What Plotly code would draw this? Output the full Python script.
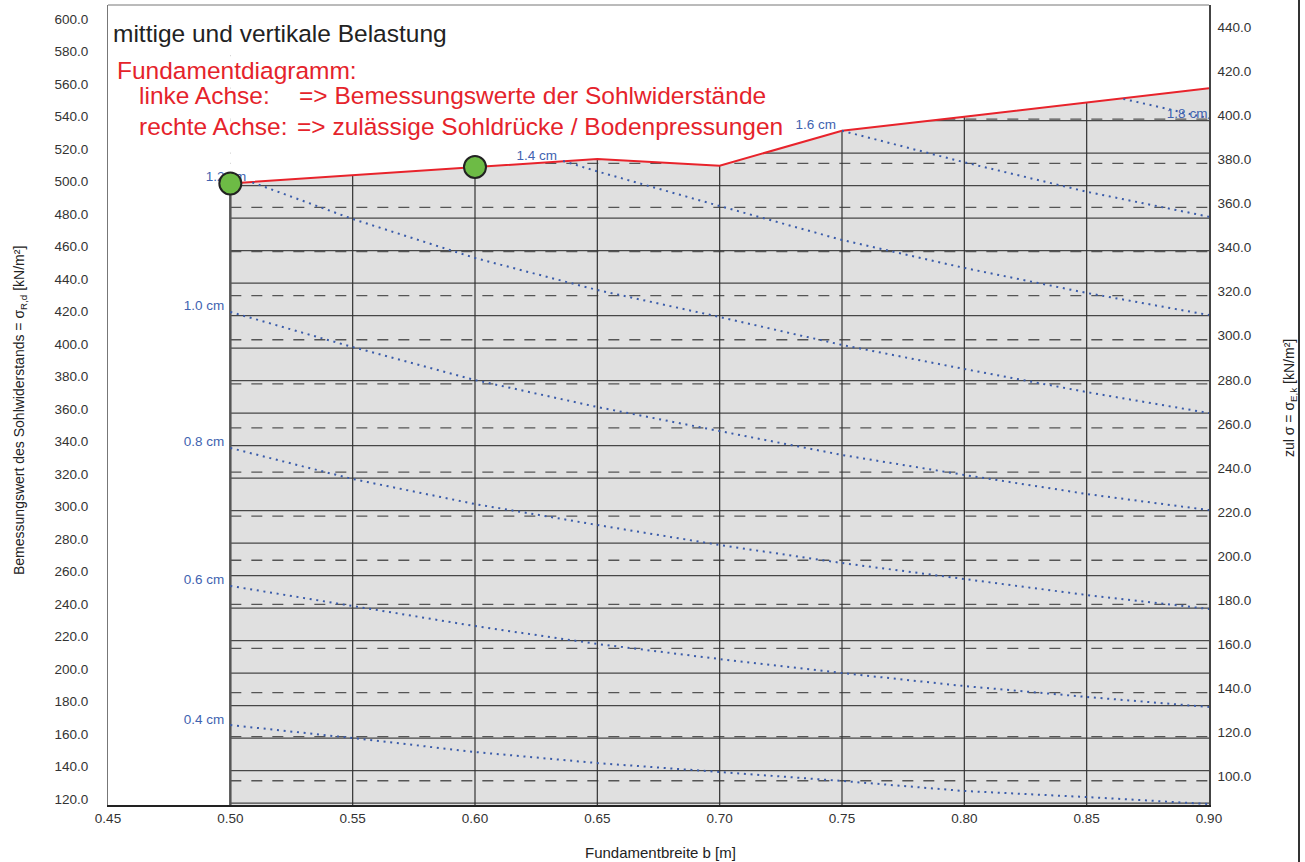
import plotly.graph_objects as go

# Foundation width b [m]
B = [0.50, 0.55, 0.60, 0.65, 0.70, 0.75, 0.80, 0.85, 0.90]

# Upper limit of the design base resistance sigma_R,d [kN/m²]
SIGMA_RD_MAX = [501.4, 506.4, 511.5, 516.4, 512.3, 533.8, 542.5, 551.3, 559.9]

# Highlighted design points
POINT_B = [0.50, 0.60]
POINT_SIGMA = [501.4, 511.5]

# Settlement isolines (values on the left axis, kN/m²)
S04_B = [0.50, 0.55, 0.60, 0.65, 0.70, 0.75, 0.80, 0.85, 0.90]
S04 = [168.1, 160.1, 151.5, 144.7, 139.2, 133.7, 127.5, 123.8, 119.5]
S06_B = [0.50, 0.55, 0.60, 0.65, 0.70, 0.75, 0.80, 0.85, 0.90]
S06 = [253.7, 241.4, 229.0, 218.0, 208.7, 200.1, 192.1, 185.4, 179.2]
S08_B = [0.50, 0.55, 0.60, 0.65, 0.70, 0.75, 0.80, 0.85, 0.90]
S08 = [338.6, 319.5, 304.1, 291.2, 278.9, 267.8, 258.0, 248.1, 239.5]
S10_B = [0.50, 0.55, 0.60, 0.65, 0.70, 0.75, 0.80, 0.85, 0.90]
S10 = [422.3, 400.7, 380.4, 363.8, 349.0, 334.3, 322.0, 310.3, 300.4]
S12_B = [0.509, 0.55, 0.60, 0.65, 0.70, 0.75, 0.80, 0.85, 0.90]
S12 = [502.0, 479.5, 455.5, 435.8, 419.2, 402.0, 387.2, 373.0, 360.1]
S14_B = [0.636, 0.65, 0.70, 0.75, 0.80, 0.85, 0.90]
S14 = [515.2, 508.8, 487.5, 466.6, 449.4, 434.0, 420.4]
S16_B = [0.75, 0.80, 0.85, 0.90]
S16 = [533.8, 514.4, 496.3, 480.9]
S18_B = [0.865, 0.90]
S18 = [553.4, 541.5]

SETTLEMENT_LABELS = ["0.4 cm", "0.6 cm", "0.8 cm", "1.0 cm", "1.2 cm", "1.4 cm", "1.6 cm", "1.8 cm"]

# Axis ticks
X_TICKS = [0.45, 0.50, 0.55, 0.60, 0.65, 0.70, 0.75, 0.80, 0.85, 0.90]
LEFT_TICKS = list(range(120, 601, 20))
RIGHT_TICKS = list(range(100, 441, 20))

X_RANGE = [0.45, 0.90]
L_RANGE = [118.9, 611.2]
R_RANGE = [89.0, 451.8]

FONT = "Liberation Sans, Arial, sans-serif"
W, H = 1305, 862
M_L, M_R, M_T, M_B = 108, 96, 5, 57
PW, PH = W - M_L - M_R, H - M_T - M_B

RED = "#E8232B"
BLUE = "#3A5CAA"
GREY_FILL = "#E0E0E0"


def right_to_left(r):
    """Map a right-axis value onto the left-axis scale."""
    return L_RANGE[0] + (r - R_RANGE[0]) * (L_RANGE[1] - L_RANGE[0]) / (R_RANGE[1] - R_RANGE[0])


def px(xp):
    return (xp - M_L) / PW


def py(yp):
    return (M_T + PH - yp) / PH


fig = go.Figure()

# admissible region
fig.add_trace(go.Scatter(x=B, y=SIGMA_RD_MAX, mode="lines", line=dict(width=0),
                         fill="tozeroy", fillcolor=GREY_FILL, hoverinfo="skip"))

# horizontal grid: solid = left axis, dashed = right axis
for v in LEFT_TICKS:
    fig.add_trace(go.Scatter(x=[B[0], B[-1]], y=[v, v], mode="lines",
                             line=dict(color="#474747", width=1.2), hoverinfo="skip"))
for r in RIGHT_TICKS:
    lv = right_to_left(r)
    fig.add_trace(go.Scatter(x=[B[0], B[-1]], y=[lv, lv], mode="lines",
                             line=dict(color="#555555", width=1.3, dash="11px,10px"),
                             hoverinfo="skip"))

# white cover above the limit line clips the grid to the admissible region
fig.add_trace(go.Scatter(x=B, y=[L_RANGE[1]] * len(B), mode="lines", line=dict(width=0),
                         hoverinfo="skip"))
fig.add_trace(go.Scatter(x=B, y=SIGMA_RD_MAX, mode="lines", line=dict(width=0),
                         fill="tonexty", fillcolor="white", hoverinfo="skip"))

# vertical grid up to the limit line
for i, b in enumerate(B):
    if b in (B[0], B[-1]):
        continue
    fig.add_trace(go.Scatter(x=[b, b], y=[L_RANGE[0], SIGMA_RD_MAX[i]], mode="lines",
                             line=dict(color="#333333", width=1.2), hoverinfo="skip"))
fig.add_trace(go.Scatter(x=[B[0], B[0]], y=[L_RANGE[0], SIGMA_RD_MAX[0]], mode="lines",
                         line=dict(color="#555555", width=2.5), hoverinfo="skip"))

# limit line
fig.add_trace(go.Scatter(x=B, y=SIGMA_RD_MAX, mode="lines",
                         line=dict(color=RED, width=2), hoverinfo="skip"))

# settlement isolines
iso = [(S04_B, S04), (S06_B, S06), (S08_B, S08), (S10_B, S10),
       (S12_B, S12), (S14_B, S14), (S16_B, S16), (S18_B, S18)]
for xs, ys in iso:
    fig.add_trace(go.Scatter(x=xs, y=ys, mode="lines",
                             line=dict(color=BLUE, width=2, dash="2px,4.7px"),
                             hoverinfo="skip"))

# isoline labels: at the start of each line, the last one at its end
LABEL_DY = 3.0
for (xs, ys), lab in zip(iso[:-1], SETTLEMENT_LABELS[:-1]):
    fig.add_trace(go.Scatter(x=[xs[0]], y=[ys[0] + LABEL_DY], mode="markers+text",
                             marker=dict(size=8, opacity=0), text=[lab],
                             textposition="middle left",
                             textfont=dict(family=FONT, size=13.5, color="#4163B0"),
                             hoverinfo="skip"))
fig.add_trace(go.Scatter(x=[S18_B[-1]], y=[S18[-1] + 2.0], mode="markers+text",
                         marker=dict(size=1, opacity=0), text=[SETTLEMENT_LABELS[-1]],
                         textposition="middle left",
                         textfont=dict(family=FONT, size=13.5, color="#4163B0"),
                         hoverinfo="skip"))

# design points
fig.add_trace(go.Scatter(x=POINT_B, y=POINT_SIGMA, mode="markers",
                         marker=dict(size=22, color="#6DBB45",
                                     line=dict(color="#222222", width=2)),
                         hoverinfo="skip"))

# keep the right axis attached
fig.add_trace(go.Scatter(x=[X_RANGE[1]], y=[R_RANGE[0]], yaxis="y2", mode="markers",
                         marker=dict(opacity=0), hoverinfo="skip"))

tickfont = dict(family=FONT, size=13.5, color="#333333")

fig.update_layout(
    width=W, height=H,
    margin=dict(l=M_L, r=M_R, t=M_T, b=M_B),
    paper_bgcolor="white", plot_bgcolor="white",
    showlegend=False,
    font=dict(family=FONT),
    xaxis=dict(range=X_RANGE, tickvals=X_TICKS, ticktext=[f"{t:.2f}" for t in X_TICKS],
               showgrid=False, zeroline=False, showline=True, linecolor="#222222",
               linewidth=1.5, tickfont=tickfont, ticks=""),
    yaxis=dict(range=L_RANGE, tickvals=LEFT_TICKS, ticktext=[f"{t:.1f}" for t in LEFT_TICKS],
               showgrid=False, zeroline=False, showline=True, linecolor="#777777",
               linewidth=1, tickfont=tickfont, ticks="", ticklabelstandoff=16,
               ticklabelshift=-4),
    yaxis2=dict(range=R_RANGE, tickvals=RIGHT_TICKS, ticktext=[f"{t:.1f}" for t in RIGHT_TICKS],
                overlaying="y", side="right", showgrid=False, zeroline=False,
                showline=True, linecolor="#444444", linewidth=1.6, tickfont=tickfont,
                ticks="", ticklabelstandoff=4, ticklabelshift=-4),
)

# plot frame top edge and outer right edge
fig.add_shape(type="line", xref="paper", yref="paper", x0=0, x1=1, y0=1, y1=1,
              line=dict(color="#777777", width=1))
fig.add_shape(type="line", xref="paper", yref="paper", x0=px(1299), x1=px(1299),
              y0=py(0), y1=py(H), line=dict(color="#333333", width=2))

ann = []
ann.append(dict(text="mittige und vertikale Belastung", x=px(111), y=py(33),
                font=dict(family=FONT, size=24.5, color="#222222")))
red_font = dict(family=FONT, size=24.5, color="#E5232B")
ann.append(dict(text="Fundamentdiagramm:", x=px(115), y=py(70), font=red_font))
ann.append(dict(text="linke Achse:", x=px(137), y=py(95), font=red_font))
ann.append(dict(text="=> Bemessungswerte der Sohlwiderstände", x=px(297), y=py(95), font=red_font))
ann.append(dict(text="rechte Achse:", x=px(137), y=py(126), font=red_font))
ann.append(dict(text="=> zulässige Sohldrücke / Bodenpressungen", x=px(295), y=py(126), font=red_font))
for a in ann:
    a.update(xref="paper", yref="paper", xanchor="left", yanchor="middle",
             showarrow=False)

ann.append(dict(text="Fundamentbreite b [m]", x=px(660), y=py(852), xref="paper",
                yref="paper", xanchor="center", yanchor="middle", showarrow=False,
                font=dict(family=FONT, size=15, color="#222222")))
ann.append(dict(text="Bemessungswert des Sohlwiderstands = σ<sub>R,d</sub> [kN/m²]",
                x=px(20), y=py(411), xref="paper", yref="paper", xanchor="center",
                yanchor="middle", textangle=-90, showarrow=False,
                font=dict(family=FONT, size=14, color="#222222")))
ann.append(dict(text="zul σ = σ<sub>E,k</sub> [kN/m²]",
                x=px(1290), y=py(398), xref="paper", yref="paper", xanchor="center",
                yanchor="middle", textangle=-90, showarrow=False,
                font=dict(family=FONT, size=14, color="#222222")))
fig.update_layout(annotations=ann)

fig.write_html("out.html")
